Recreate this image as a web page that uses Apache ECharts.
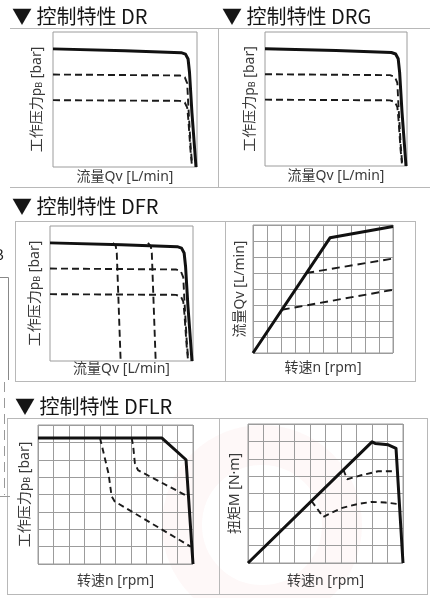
<!DOCTYPE html>
<html>
<head>
<meta charset="utf-8">
<script src="https://cdn.jsdelivr.net/npm/echarts/dist/echarts.min.js"></script>
<style>
  html, body { margin: 0; padding: 0; background: #fff; }
  #chart { width: 430px; height: 598px; }
</style>
</head>
<body>
<div id="chart"></div>
<script>
// ---- Characteristic curves (values in axis units) ----

// Pressure vs. flow, DR / DRG / DFR (x: flow 0–100 %, y: pressure 0–100 %)
const pressureMax = [[0, 87.5], [50, 86.2], [89, 84.7], [92, 83.6], [93.8, 80], [94.8, 70], [96.5, 40], [99.3, 0]];
const pressureMid = [[0, 68.5], [88, 67.8], [91.5, 66.5], [93.2, 62], [94, 45], [95.6, 15], [96.6, 2]];
const pressureLow = [[0, 49.5], [88, 49], [91.5, 47.8], [93.2, 44], [94, 35], [95.5, 12], [96.4, 2]];

// Flow limiter lines, DFR (x: flow 0–100 %, y: pressure 0–100 %)
const flowLimitA = [[44, 87.5], [46, 85], [46.7, 80], [49.4, 0]];
const flowLimitB = [[68.5, 87.5], [70.5, 85], [71.2, 80], [73.9, 0]];

// Flow vs. speed, DFR (x: speed 0–10 div, y: flow 0–8 div)
const flowMax = [[0, 0], [5.5, 7.2], [10, 7.9]];
const flowMid = [[3.8, 5.0], [10, 5.9]];
const flowLow = [[2.05, 2.7], [10, 3.95]];

// Pressure vs. speed, DFLR (x: speed 0–10 div, y: pressure 0–8 div)
const speedPressMax = [[0, 7.25], [8, 7.25], [9.55, 6.0], [10, 0]];
const speedPressA = [[4.0, 7.25], [4.15, 6.7], [4.55, 5.2], [4.75, 3.9], [4.95, 3.6], [9.85, 1.0]];
const speedPressB = [[6.05, 7.25], [6.15, 6.7], [6.25, 5.8], [6.45, 5.4], [9.75, 3.85]];

// Torque vs. speed, DFLR (x: speed 0–10 div, y: torque 0–8 div)
const torqueMax = [[0, 0], [8, 6.97], [8.2, 6.88], [9.05, 6.8], [9.55, 6.6], [10, 0]];
const torqueMid = [[6.15, 5.37], [6.4, 4.82], [7.3, 5.05], [8.4, 5.28], [9.5, 5.28]];
const torqueLow = [[4.1, 3.57], [4.85, 2.65], [6.0, 3.15], [7.1, 3.4], [8.0, 3.52], [8.85, 3.48], [9.8, 3.38]];

// ---- Text ----
const panelTitles = ['▼ 控制特性 DR', '▼ 控制特性 DRG', '▼ 控制特性 DFR', '▼ 控制特性 DFLR'];
const nameFlow = '流量Qv [L/min]';
const namePressure = '工作压力p{sub|B} [bar]';
const nameSpeed = '转速n [rpm]';
const nameTorque = '扭矩M [N·m]';

// ---- Layout ----
const FONT_HEAD = '"Noto Sans CJK SC", "Noto Sans", sans-serif';
const FONT_NAME = '"Noto Sans", "Noto Sans CJK SC", sans-serif';
const grids = [
  { left: 53,  top: 32,  width: 144, height: 135 },
  { left: 265, top: 32,  width: 142, height: 134 },
  { left: 50,  top: 226, width: 143, height: 135 },
  { left: 253, top: 225, width: 140, height: 128 },
  { left: 38,  top: 425, width: 155, height: 139 },
  { left: 248, top: 424, width: 155, height: 139 }
];

// per panel: [xMax, yMax, gridded, xName, yName, xGap, yGap]
const panels = [
  [100, 100, false, nameFlow,  namePressure, 3,  9],
  [100, 100, false, nameFlow,  namePressure, 3,  8],
  [100, 100, false, nameFlow,  namePressure, 1,  8],
  [10,  8,   true,  nameSpeed, nameFlow,     8,  6],
  [10,  8,   true,  nameSpeed, namePressure, 10, 6],
  [10,  8,   true,  nameSpeed, nameTorque,   11, 6]
];

const nameStyle = {
  color: '#3a3a3a', fontSize: 14, fontFamily: FONT_NAME,
  rich: { sub: { fontSize: 9, color: '#3a3a3a', fontFamily: FONT_NAME, padding: [5, 0, 0, 0] } }
};
const splitStyle = { color: '#9c9c9c', width: 1 };

const xAxes = [], yAxes = [], gridOpts = [];
panels.forEach((p, i) => {
  const [xMax, yMax, gridded, xName, yName, xGap, yGap] = p;
  gridOpts.push(Object.assign({
    show: true, borderColor: '#9c9c9c', borderWidth: 1,
    backgroundColor: 'transparent', containLabel: false, outerBoundsMode: 'none'
  }, grids[i]));
  const common = {
    gridIndex: i, type: 'value', min: 0,
    axisLabel: { show: false }, axisTick: { show: false }, axisLine: { show: false },
    nameLocation: 'middle', nameTextStyle: nameStyle
  };
  xAxes.push(Object.assign({}, common, {
    max: xMax, interval: gridded ? 1 : xMax,
    splitLine: { show: gridded, lineStyle: splitStyle },
    name: xName, nameGap: xGap, nameTextStyle: Object.assign({}, nameStyle, { verticalAlign: 'top' })
  }));
  yAxes.push(Object.assign({}, common, {
    max: yMax, interval: gridded ? 1 : yMax,
    splitLine: { show: gridded, lineStyle: splitStyle },
    name: yName, nameGap: yGap, nameRotate: 90
  }));
});

function curve(idx, data, dashed, dash) {
  return {
    type: 'line', xAxisIndex: idx, yAxisIndex: idx, data: data,
    symbol: 'none', silent: true, animation: false,
    lineStyle: dashed
      ? { color: '#1a1a1a', width: 1.9, type: dash || [7, 4] }
      : { color: '#111', width: 3, type: 'solid', join: 'round' }
  };
}

const series = [
  curve(0, pressureMid, true), curve(0, pressureLow, true), curve(0, pressureMax, false),
  curve(1, pressureMid, true), curve(1, pressureLow, true), curve(1, pressureMax, false),
  curve(2, pressureMid, true), curve(2, pressureLow, true),
  curve(2, flowLimitA, true), curve(2, flowLimitB, true), curve(2, pressureMax, false),
  curve(3, flowMid, true, [8, 5]), curve(3, flowLow, true, [8, 5]), curve(3, flowMax, false),
  curve(4, speedPressA, true, [6, 4]), curve(4, speedPressB, true, [6, 4]), curve(4, speedPressMax, false),
  curve(5, torqueMid, true, [6, 4]), curve(5, torqueLow, true, [6, 4]), curve(5, torqueMax, false)
];

// ---- Frames and headings ----
function hline(x1, x2, y, color) {
  return { type: 'line', silent: true, shape: { x1: x1, y1: y, x2: x2, y2: y },
           style: { stroke: color || '#b8b8b8', lineWidth: 1 } };
}
function vline(x, y1, y2, color, dash) {
  return { type: 'line', silent: true, shape: { x1: x, y1: y1, x2: x, y2: y2 },
           style: { stroke: color || '#b8b8b8', lineWidth: 1, lineDash: dash || null } };
}
function heading(text, x, y) {
  return { type: 'text', silent: true, x: x, y: y,
           style: { text: text, fill: '#151515', fontSize: 20, fontFamily: FONT_HEAD,
                    textVerticalAlign: 'middle', verticalAlign: 'middle' } };
}

const graphics = [
  // faint background mark behind the lower row
  { type: 'circle', silent: true, z: -5, shape: { cx: 262, cy: 525, r: 80 },
    style: { fill: 'none', stroke: 'rgba(220,60,60,0.035)', lineWidth: 40 } },
  // top row
  hline(10, 430, 28.5), hline(10, 430, 187.5), vline(218.5, 28.5, 187.5),
  // DFR row
  hline(15, 416, 221.5), hline(15, 416, 381.5),
  vline(15.5, 221.5, 381.5), vline(225.5, 221.5, 381.5), vline(415.5, 221.5, 381.5),
  // DFLR row
  hline(7, 428, 418.5), hline(7, 428, 594.5),
  vline(7.5, 418.5, 594.5), vline(219.5, 418.5, 594.5), vline(427.5, 418.5, 594.5),
  // neighbouring sheet edge on the left
  hline(0, 8.5, 277.5, '#888'), vline(8.5, 277.5, 380, '#888'),
  vline(4.5, 382, 495, '#999', [10, 6]), hline(0, 10, 496.5, '#999'),
  { type: 'text', silent: true, x: -6, y: 254,
    style: { text: 'B', fill: '#222', fontSize: 15, fontFamily: FONT_HEAD,
             textVerticalAlign: 'middle', verticalAlign: 'middle' } },
  heading(panelTitles[0], 12, 16),
  heading(panelTitles[1], 222, 16),
  heading(panelTitles[2], 12, 206),
  heading(panelTitles[3], 15, 406)
];

const chart = echarts.init(document.getElementById('chart'), null, { renderer: 'canvas' });
chart.setOption({
  animation: false,
  backgroundColor: '#fff',
  grid: gridOpts,
  xAxis: xAxes,
  yAxis: yAxes,
  series: series,
  graphic: graphics
});
</script>
</body>
</html>
